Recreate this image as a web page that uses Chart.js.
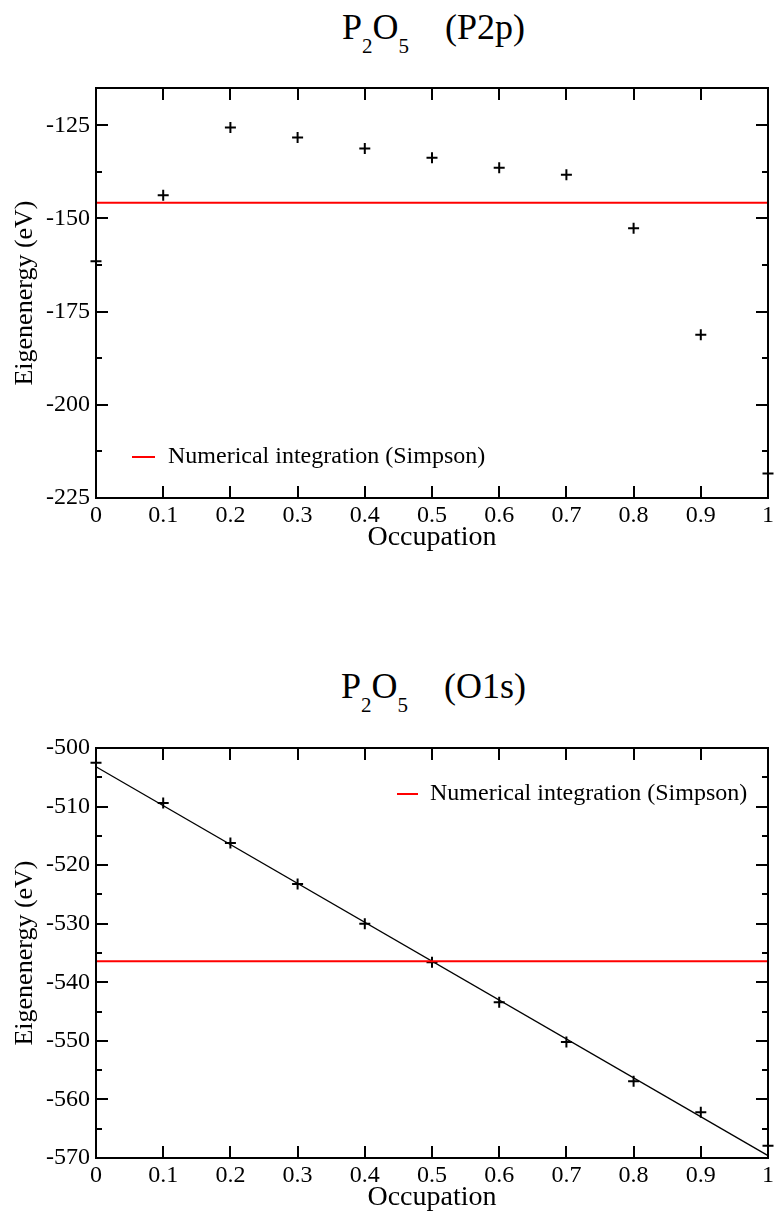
<!DOCTYPE html>
<html>
<head>
<meta charset="utf-8">
<script src="https://cdn.jsdelivr.net/npm/chart.js@4/dist/chart.umd.min.js"></script>
<style>
  html, body { margin:0; padding:0; background:#fff; }
  body { width:777px; height:1215px; overflow:hidden; position:relative; font-family:"Liberation Serif", serif; }
  canvas { position:absolute; left:0; }
  .title { position:absolute; left:96px; width:675px; text-align:center; font-size:36px; line-height:36px; color:#000; white-space:pre; }
  .title .sub { font-size:21px; position:relative; top:14px; }
  .legend { position:absolute; font-size:24px; line-height:24px; color:#000; white-space:pre; }
  .dash { position:absolute; height:2px; background:#ff0000; }
</style>
</head>
<body>
<div class="title" style="top:9px">P<span class="sub">2</span>O<span class="sub">5</span>    (P2p)</div>
<div class="title" style="top:668px">P<span class="sub">2</span>O<span class="sub">5</span>    (O1s)</div>

<canvas id="c1" width="777" height="560" style="top:0px;width:777px;height:560px"></canvas>
<canvas id="c2" width="777" height="560" style="top:660px;width:777px;height:560px"></canvas>

<div class="dash" style="left:132px;top:456px;width:23px"></div>
<div class="legend" style="left:168px;top:443px">Numerical integration (Simpson)</div>
<div class="dash" style="left:397px;top:793px;width:21px"></div>
<div class="legend" style="left:430px;top:780px">Numerical integration (Simpson)</div>

<script>
// ---- data ----
const occupation = [0, 0.1, 0.2, 0.3, 0.4, 0.5, 0.6, 0.7, 0.8, 0.9, 1];
const p2pEigen = [-161.5, -143.8, -125.6, -128.3, -131.2, -133.7, -136.4, -138.3, -152.6, -181.2, -218.4];
const p2pSimpson = -145.8;
const o1sEigen = [-502.5, -509.4, -516.2, -523.2, -530.0, -536.6, -543.4, -550.2, -556.9, -562.2, -567.9];
const o1sFitX = [0, 1];
const o1sFitY = [-503.2, -569.6];
const o1sSimpson = -536.4;
const xTicks = [0, 0.1, 0.2, 0.3, 0.4, 0.5, 0.6, 0.7, 0.8, 0.9, 1];
const p2pYTicks = [-225, -200, -175, -150, -125];
const o1sYTicks = [-570, -560, -550, -540, -530, -520, -510, -500];
const legendLabel = 'Numerical integration (Simpson)';

const FONT = '"Liberation Serif", "Times New Roman", serif';

const frameTicks = {
  id: 'frameTicks',
  afterDatasetsDraw(chart, args, opts) {
    const {ctx, chartArea: a, scales: {x, y}} = chart;
    ctx.save();
    ctx.strokeStyle = '#000';
    ctx.lineWidth = 2;
    ctx.beginPath();
    const major = 12, minor = 6;
    opts.xTicks.forEach(v => {
      const px = Math.round(x.getPixelForValue(v));
      if (px <= a.left + 1 || px >= a.right - 1) return;
      ctx.moveTo(px, a.bottom); ctx.lineTo(px, a.bottom - major);
      ctx.moveTo(px, a.top); ctx.lineTo(px, a.top + major);
    });
    const yt = opts.yTicks;
    yt.forEach(v => {
      const py = Math.round(y.getPixelForValue(v));
      ctx.moveTo(a.left, py); ctx.lineTo(a.left + major, py);
      ctx.moveTo(a.right, py); ctx.lineTo(a.right - major, py);
    });
    const step = yt[1] - yt[0];
    for (let i = 0; i < yt.length; i++) {
      const v = yt[i] + step / 2;
      if (v >= y.max) continue;
      const py = Math.round(y.getPixelForValue(v));
      ctx.moveTo(a.left, py); ctx.lineTo(a.left + minor, py);
      ctx.moveTo(a.right, py); ctx.lineTo(a.right - minor, py);
    }
    ctx.stroke();
    ctx.strokeRect(a.left, a.top, a.right - a.left, a.bottom - a.top);
    ctx.restore();
  }
};

function makeChart(id, datasets, yMin, yMax, yTicks) {
  return new Chart(document.getElementById(id), {
    type: 'scatter',
    data: { datasets },
    plugins: [frameTicks],
    options: {
      responsive: false,
      animation: false,
      events: [],
      layout: { padding: { top: 88, right: 6, left: 0, bottom: 0 } },
      plugins: {
        legend: { display: false },
        tooltip: { enabled: false },
        frameTicks: { xTicks: xTicks, yTicks: yTicks }
      },
      scales: {
        x: {
          type: 'linear', position: 'bottom', min: 0, max: 1,
          grid: { display: false, drawTicks: false },
          border: { display: false },
          afterBuildTicks: s => { s.ticks = xTicks.map(v => ({ value: v })); },
          afterFit: s => { s.height = 62; },
          ticks: {
            autoSkip: false, maxRotation: 0, padding: 3, color: '#000',
            font: { family: FONT, size: 24 },
            callback: v => String(v)
          },
          title: {
            display: true, text: 'Occupation', color: '#000',
            font: { family: FONT, size: 28 },
            padding: { top: 0, bottom: 6 }
          }
        },
        y: {
          type: 'linear', position: 'left', min: yMin, max: yMax,
          grid: { display: false, drawTicks: false },
          border: { display: false },
          afterBuildTicks: s => { s.ticks = yTicks.map(v => ({ value: v })); },
          afterFit: s => { s.width = 96; },
          ticks: {
            autoSkip: false, padding: 6, color: '#000',
            font: { family: FONT, size: 24 },
            callback: v => String(v)
          },
          title: {
            display: true, text: 'Eigenenergy (eV)', color: '#000',
            font: { family: FONT, size: 26 },
            padding: { top: 10, bottom: 0 }
          }
        }
      }
    }
  });
}

const crossStyle = {
  showLine: false, pointStyle: 'cross', pointRadius: 5.5, pointBorderWidth: 2,
  borderColor: '#000', backgroundColor: '#000', clip: false
};

makeChart('c1', [
  { label: legendLabel, data: [{x: 0, y: p2pSimpson}, {x: 1, y: p2pSimpson}],
    showLine: true, borderColor: '#ff0000', borderWidth: 2, pointRadius: 0 },
  Object.assign({ label: 'P2p', data: occupation.map((o, i) => ({ x: o, y: p2pEigen[i] })) }, crossStyle)
], -225, -115, p2pYTicks);

makeChart('c2', [
  { label: legendLabel, data: [{x: 0, y: o1sSimpson}, {x: 1, y: o1sSimpson}],
    showLine: true, borderColor: '#ff0000', borderWidth: 2, pointRadius: 0 },
  { label: 'fit', data: o1sFitX.map((o, i) => ({ x: o, y: o1sFitY[i] })),
    showLine: true, borderColor: '#000', borderWidth: 1.3, pointRadius: 0, clip: false },
  Object.assign({ label: 'O1s', data: occupation.map((o, i) => ({ x: o, y: o1sEigen[i] })) }, crossStyle)
], -570, -500, o1sYTicks);
</script>
</body>
</html>
